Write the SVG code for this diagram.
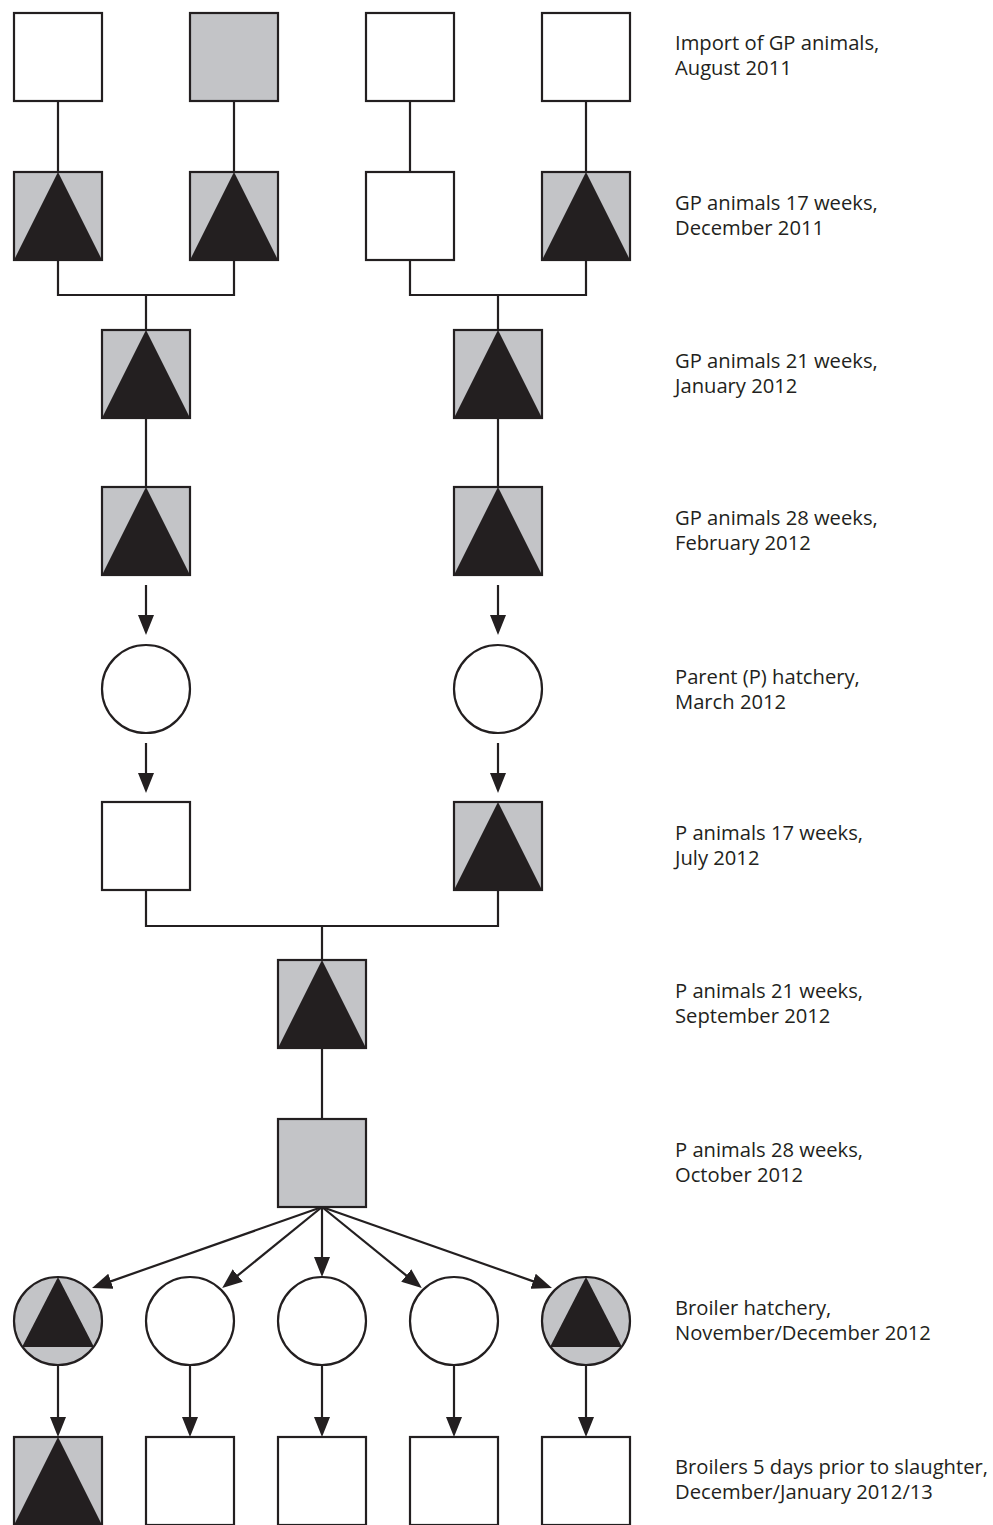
<svg xmlns="http://www.w3.org/2000/svg" width="993" height="1525" viewBox="0 0 993 1525">
<style>
.box{stroke:#231f20;stroke-width:2.2}
.w{fill:#ffffff}
.g{fill:#c3c4c7}
.tri{fill:#231f20}
.ln{fill:none;stroke:#231f20;stroke-width:2.2}
.ar{fill:none;stroke:#231f20;stroke-width:2.2;marker-end:url(#ah)}
text{font-family:"Open Sans","Liberation Sans",sans-serif;font-size:20.2px;fill:#231f20}
</style>
<defs>
<marker id="ah" markerUnits="userSpaceOnUse" markerWidth="20" markerHeight="17" viewBox="0 0 20 17" refX="7" refY="8.5" orient="auto">
<path d="M0,0.5 L20,8.5 L0,16.5 Z" fill="#231f20"/>
</marker>
</defs>
<rect width="993" height="1525" fill="#ffffff"/>

<g id="connectors">
<path class="ln" d="M58,101V172M234,101V172M410,101V172M586,101V172"/>
<path class="ln" d="M58,260V295H234V260M146,295V330"/>
<path class="ln" d="M410,260V295H586V260M498,295V330"/>
<path class="ln" d="M146,418V487M498,418V487"/>
<path class="ar" d="M146,585V622"/>
<path class="ar" d="M498,585V622"/>
<path class="ar" d="M146,743V780"/>
<path class="ar" d="M498,743V780"/>
<path class="ln" d="M146,890V926H498V890M322,926V960"/>
<path class="ln" d="M322,1048V1119"/>
<path class="ar" d="M322,1207L104.3,1283.6"/>
<path class="ar" d="M322,1207L232.3,1279.9"/>
<path class="ar" d="M322,1207V1264"/>
<path class="ar" d="M322,1207L411.7,1279.9"/>
<path class="ar" d="M322,1207L539.7,1283.6"/>
<path class="ar" d="M58,1365V1424"/>
<path class="ar" d="M190,1365V1424"/>
<path class="ar" d="M322,1365V1424"/>
<path class="ar" d="M454,1365V1424"/>
<path class="ar" d="M586,1365V1424"/>
</g>

<g id="r1c1"><rect class="box w" x="14" y="13" width="88" height="88"/></g>
<g id="r1c2"><rect class="box g" x="190" y="13" width="88" height="88"/></g>
<g id="r1c3"><rect class="box w" x="366" y="13" width="88" height="88"/></g>
<g id="r1c4"><rect class="box w" x="542" y="13" width="88" height="88"/></g>
<text id="l1"><tspan x="675" y="50">Import of GP animals,</tspan><tspan x="675" y="75">August 2011</tspan></text>

<g id="r2c1"><rect class="box g" x="14" y="172" width="88" height="88"/><path class="tri" d="M58,172L14,260H102Z"/></g>
<g id="r2c2"><rect class="box g" x="190" y="172" width="88" height="88"/><path class="tri" d="M234,172L190,260H278Z"/></g>
<g id="r2c3"><rect class="box w" x="366" y="172" width="88" height="88"/></g>
<g id="r2c4"><rect class="box g" x="542" y="172" width="88" height="88"/><path class="tri" d="M586,172L542,260H630Z"/></g>
<text id="l2"><tspan x="675" y="210">GP animals 17 weeks,</tspan><tspan x="675" y="235">December 2011</tspan></text>

<g id="r3c1"><rect class="box g" x="102" y="330" width="88" height="88"/><path class="tri" d="M146,330L102,418H190Z"/></g>
<g id="r3c2"><rect class="box g" x="454" y="330" width="88" height="88"/><path class="tri" d="M498,330L454,418H542Z"/></g>
<text id="l3"><tspan x="675" y="368">GP animals 21 weeks,</tspan><tspan x="675" y="393">January 2012</tspan></text>

<g id="r4c1"><rect class="box g" x="102" y="487" width="88" height="88"/><path class="tri" d="M146,487L102,575H190Z"/></g>
<g id="r4c2"><rect class="box g" x="454" y="487" width="88" height="88"/><path class="tri" d="M498,487L454,575H542Z"/></g>
<text id="l4"><tspan x="675" y="525">GP animals 28 weeks,</tspan><tspan x="675" y="550">February 2012</tspan></text>

<g id="r5c1"><circle class="box w" cx="146" cy="689" r="44"/></g>
<g id="r5c2"><circle class="box w" cx="498" cy="689" r="44"/></g>
<text id="l5"><tspan x="675" y="684">Parent (P) hatchery,</tspan><tspan x="675" y="709">March 2012</tspan></text>

<g id="r6c1"><rect class="box w" x="102" y="802" width="88" height="88"/></g>
<g id="r6c2"><rect class="box g" x="454" y="802" width="88" height="88"/><path class="tri" d="M498,802L454,890H542Z"/></g>
<text id="l6"><tspan x="675" y="840">P animals 17 weeks,</tspan><tspan x="675" y="865">July 2012</tspan></text>

<g id="r7"><rect class="box g" x="278" y="960" width="88" height="88"/><path class="tri" d="M322,960L278,1048H366Z"/></g>
<text id="l7"><tspan x="675" y="998">P animals 21 weeks,</tspan><tspan x="675" y="1023">September 2012</tspan></text>

<g id="r8"><rect class="box g" x="278" y="1119" width="88" height="88"/></g>
<text id="l8"><tspan x="675" y="1157">P animals 28 weeks,</tspan><tspan x="675" y="1182">October 2012</tspan></text>

<g id="r9c1"><circle class="box g" cx="58" cy="1321" r="44"/><path class="tri" d="M58,1277L22,1347H94Z"/></g>
<g id="r9c2"><circle class="box w" cx="190" cy="1321" r="44"/></g>
<g id="r9c3"><circle class="box w" cx="322" cy="1321" r="44"/></g>
<g id="r9c4"><circle class="box w" cx="454" cy="1321" r="44"/></g>
<g id="r9c5"><circle class="box g" cx="586" cy="1321" r="44"/><path class="tri" d="M586,1277L550,1347H622Z"/></g>
<text id="l9"><tspan x="675" y="1315">Broiler hatchery,</tspan><tspan x="675" y="1340">November/December 2012</tspan></text>

<g id="r10c1"><rect class="box g" x="14" y="1437" width="88" height="88"/><path class="tri" d="M58,1437L14,1525H102Z"/></g>
<g id="r10c2"><rect class="box w" x="146" y="1437" width="88" height="88"/></g>
<g id="r10c3"><rect class="box w" x="278" y="1437" width="88" height="88"/></g>
<g id="r10c4"><rect class="box w" x="410" y="1437" width="88" height="88"/></g>
<g id="r10c5"><rect class="box w" x="542" y="1437" width="88" height="88"/></g>
<text id="l10"><tspan x="675" y="1474">Broilers 5 days prior to slaughter,</tspan><tspan x="675" y="1499">December/January 2012/13</tspan></text>
</svg>
